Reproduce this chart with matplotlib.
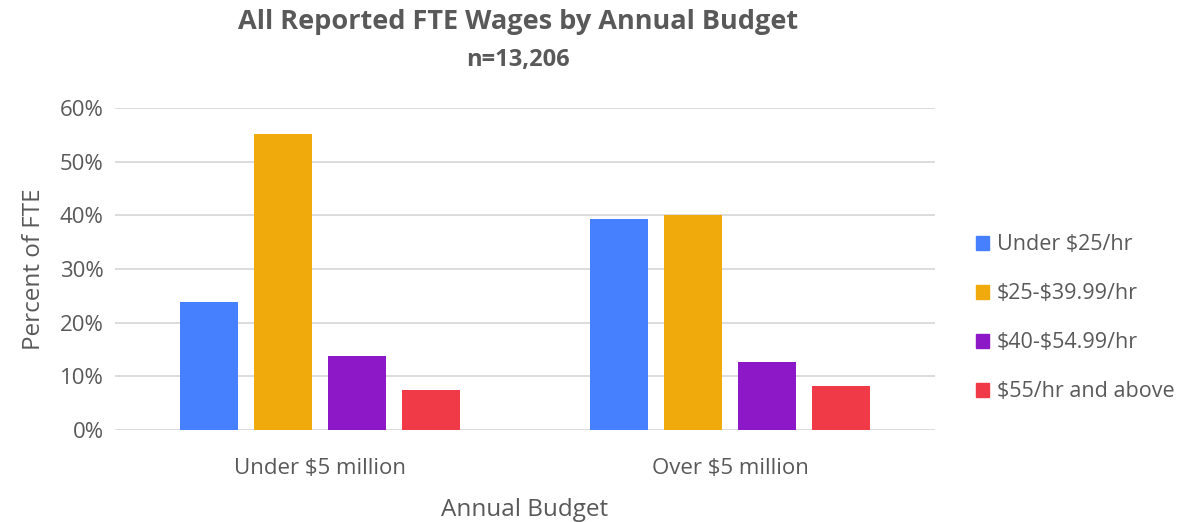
import numpy as np
import matplotlib.pyplot as plt
from matplotlib.patches import Patch
from matplotlib.ticker import PercentFormatter

plt.rcParams['font.family'] = ['Open Sans', 'DejaVu Sans']
plt.rcParams['text.parse_math'] = False

budgets = ['Under $5 million', 'Over $5 million']
wage_bands = ['Under $25/hr', '$25-$39.99/hr', '$40-$54.99/hr', '$55/hr and above']
pct_under_5m = [23.9, 55.1, 13.9, 7.4]
pct_over_5m = [39.3, 40.0, 12.6, 8.3]
colors = ['#4680FF', '#F0AA0C', '#8C18C8', '#F03A48']

grey = '#595959'

fig = plt.figure(figsize=(11.89, 5.22), dpi=100)
ax = fig.add_axes([0.0967, 0.176, 0.6897, 0.617])

x = np.arange(len(budgets))
width = 0.1415
step = 0.181
values = np.array([pct_under_5m, pct_over_5m]).T
for i, band in enumerate(wage_bands):
    ax.bar(x + (i - 1.5) * step, values[i], width, color=colors[i], label=band, zorder=3)

ax.set_xlim(-0.5, 1.5)
ax.set_ylim(0, 60)
ax.set_yticks(range(0, 61, 10))
ax.yaxis.set_major_formatter(PercentFormatter(decimals=0))
ax.set_xticks(x)
ax.set_xticklabels(budgets)
ax.grid(axis='y', color='#d9d9d9', linewidth=1.3, zorder=0)
for s in ax.spines.values():
    s.set_visible(False)
ax.tick_params(length=0, labelsize=16, colors=grey, pad=8)
ax.tick_params(axis='x', pad=20)

ax.set_ylabel('Percent of FTE', fontsize=17.5, color=grey, labelpad=10)
ax.set_xlabel('Annual Budget', fontsize=17.5, color=grey, labelpad=14)

fig.text(0.436, 0.957, 'All Reported FTE Wages by Annual Budget', ha='center', va='center',
         fontsize=19.5, fontweight='bold', color=grey)
fig.text(0.436, 0.885, 'n=13,206', ha='center', va='center',
         fontsize=17, fontweight='bold', color=grey)

handles = [Patch(color=c, label=b) for c, b in zip(colors, wage_bands)]
fig.legend(handles=handles, loc='center left', bbox_to_anchor=(0.814, 0.39), frameon=False,
           fontsize=15.5, labelcolor=grey, handlelength=0.6, handleheight=0.6,
           handletextpad=0.35, labelspacing=1.3, borderaxespad=0)

fig.savefig('out.png', dpi=100)
